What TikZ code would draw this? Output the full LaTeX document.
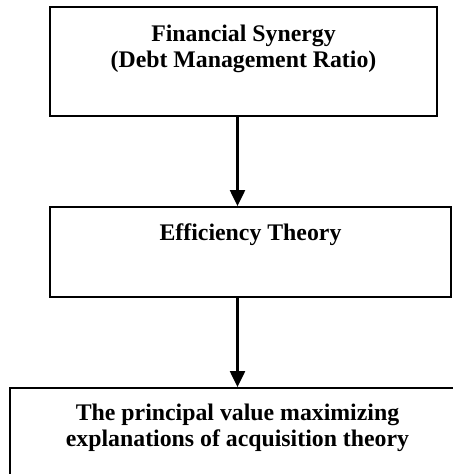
\documentclass[tikz,border=0pt]{standalone}
\usepackage{fontspec}
\setmainfont{Liberation Serif}
\usetikzlibrary{arrows.meta}
\begin{document}
\begin{tikzpicture}[x=1bp,y=-1bp,
  box/.style={draw=black, line width=1.8bp, rectangle, inner sep=0pt},
  label/.style={inner sep=0pt, align=center, anchor=north,
    font=\fontsize{23.8bp}{26bp}\selectfont\bfseries},
  arr/.style={draw=black, line width=2.2bp, -{Triangle[length=16bp,width=15bp]}}]
  \useasboundingbox (0,0) rectangle (453,474);
  \clip (0,0) rectangle (453,474);
  % boxes
  \node[box, minimum width=387bp, minimum height=109bp] (b1) at (243.5,61.5) {};
  \node[box, minimum width=401bp, minimum height=90bp] (b2) at (250.5,252) {};
  \node[box, minimum width=455bp, minimum height=120bp] (b3) at (237.5,448) {};
  % texts
  \node[label] (t1) at (243.5,25) {Financial Synergy\\(Debt Management Ratio)};
  \node[label] (t2) at (250.5,224) {Efficiency Theory};
  \node[label] (t3) at (237.5,404) {The principal value maximizing\\explanations of acquisition theory};
  % connectors
  \draw[arr] (b1.south -| b3.north) -- (b2.north -| b3.north);
  \draw[arr] (b2.south -| b3.north) -- (b3.north);
\end{tikzpicture}
\end{document}
